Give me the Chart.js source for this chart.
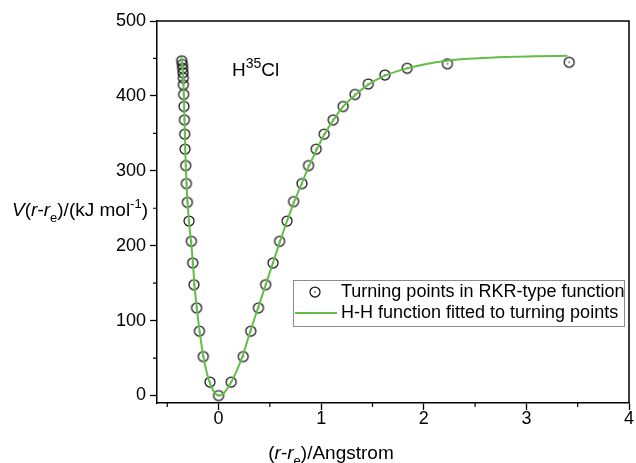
<!DOCTYPE html>
<html>
<head>
<meta charset="utf-8">
<script src="https://cdn.jsdelivr.net/npm/chart.js@4.4.0/dist/chart.umd.min.js"></script>
<style>
  body { margin: 0; background: #fff; }
  #wrap { width: 636px; height: 463px; }
</style>
</head>
<body>
<div id="wrap"><canvas id="chartHCl" width="636" height="463"></canvas></div>
<script>
// turning points, inner branch (r - re in Angstrom, V in kJ/mol)
const innerR = [-0.359, -0.353, -0.350, -0.347, -0.344, -0.343, -0.340, -0.337, -0.333, -0.330, -0.327, -0.320, -0.314, -0.304, -0.288, -0.265, -0.252, -0.240, -0.214, -0.187, -0.149, -0.084, 0];
const innerV = [447, 442, 437, 431, 424, 415, 402, 386, 368, 349, 329, 307, 283, 258, 233, 206, 177, 148, 117, 86, 52, 18, 0];
// turning points, outer branch
const outerR = [0.123, 0.240, 0.314, 0.388, 0.459, 0.531, 0.595, 0.667, 0.731, 0.813, 0.877, 0.951, 1.029, 1.117, 1.214, 1.330, 1.459, 1.621, 1.838, 2.230, 3.417];
const outerV = [18, 52, 86, 117, 148, 177, 206, 233, 259, 283, 307, 329, 349, 368, 386, 402, 416, 428, 437, 443, 445];
// fitted H-H curve
const fitR = [-0.363, -0.358, -0.352, -0.347, -0.343, -0.339, -0.335, -0.331, -0.326, -0.320, -0.312, -0.302, -0.288, -0.268, -0.250, -0.235, -0.212, -0.185, -0.148, -0.110, -0.080, -0.040, 0, 0.050, 0.120, 0.180, 0.240, 0.310, 0.385, 0.460, 0.530, 0.600, 0.665, 0.735, 0.810, 0.880, 0.955, 1.030, 1.120, 1.215, 1.330, 1.460, 1.620, 1.840, 2.000, 2.230, 2.500, 2.800, 3.100, 3.400];
const fitV = [452, 446, 439, 430, 418, 402, 384, 364, 337, 308, 282, 257, 232, 205, 177, 148, 117, 86, 52, 28, 15, 4, 0, 3, 17, 34, 55, 86, 117, 148, 177, 206, 232, 258, 283, 306, 328, 348, 368, 386, 401, 415, 427, 437, 442, 447, 450, 452, 453, 453.5];

const xTicks = [0, 1, 2, 3, 4];
const xMinorTicks = [-0.5, 0.5, 1.5, 2.5, 3.5];
const yTicks = [0, 100, 200, 300, 400, 500];
const yMinorTicks = [50, 150, 250, 350, 450];
const seriesLabels = ['Turning points in RKR-type function', 'H-H function fitted to turning points'];

const FONT = "'Liberation Sans', Arial, sans-serif";
const GREEN = 'rgb(98, 190, 70)';
const MARK = '#151515';

function makeMarker() {
  const c = document.createElement('canvas');
  c.width = 14; c.height = 14;
  const ctx = c.getContext('2d');
  ctx.strokeStyle = MARK;
  ctx.lineWidth = 1.25;
  ctx.beginPath(); ctx.arc(7, 7, 5, 0, Math.PI * 2); ctx.stroke();
  ctx.fillStyle = MARK;
  ctx.beginPath(); ctx.arc(7, 7, 0.8, 0, Math.PI * 2); ctx.fill();
  return c;
}
const marker = makeMarker();

// text drawn piece by piece so italic / sub / sup work
function drawRich(ctx, parts, x, y, size, align, small) {
  const ratio = small || 0.7;
  const fontOf = p => (p.i ? 'italic ' : '') + ((p.sub || p.sup) ? Math.round(size * ratio) : size) + 'px ' + FONT;
  let w = 0;
  parts.forEach(p => { ctx.font = fontOf(p); w += ctx.measureText(p.t).width; });
  let cx = align === 'right' ? x - w : (align === 'center' ? x - w / 2 : x);
  ctx.textAlign = 'left';
  ctx.textBaseline = 'alphabetic';
  ctx.fillStyle = '#000';
  parts.forEach(p => {
    ctx.font = fontOf(p);
    const dy = p.sub ? size * 0.3 : (p.sup ? -size * 0.42 : 0);
    ctx.fillText(p.t, cx, y + dy);
    cx += ctx.measureText(p.t).width;
  });
}

const extras = {
  id: 'extras',
  afterDraw(chart) {
    const ctx = chart.ctx;
    const a = chart.chartArea;
    const xs = chart.scales.x, ys = chart.scales.y;
    ctx.save();
    // top and right frame
    ctx.strokeStyle = '#000';
    ctx.lineWidth = 1.5;
    ctx.beginPath();
    ctx.moveTo(a.left, a.top); ctx.lineTo(a.right, a.top); ctx.lineTo(a.right, a.bottom);
    ctx.stroke();
    // minor ticks
    ctx.lineWidth = 1.2;
    ctx.beginPath();
    xMinorTicks.forEach(v => { const px = xs.getPixelForValue(v); ctx.moveTo(px, a.bottom); ctx.lineTo(px, a.bottom + 4); });
    yMinorTicks.forEach(v => { const py = ys.getPixelForValue(v); ctx.moveTo(a.left, py); ctx.lineTo(a.left - 4, py); });
    ctx.stroke();

    // axis titles
    drawRich(ctx, [{ t: 'V', i: 1 }, { t: '(' }, { t: 'r', i: 1 }, { t: '-' }, { t: 'r', i: 1 }, { t: 'e', sub: 1 }, { t: ')/(kJ mol' }, { t: '-1', sup: 1 }, { t: ')' }], 148, 216, 19, 'right');
    drawRich(ctx, [{ t: '(' }, { t: 'r', i: 1 }, { t: '-' }, { t: 'r', i: 1 }, { t: 'e', sub: 1 }, { t: ')/Angstrom' }], 331, 459, 19, 'center');
    // molecule label
    drawRich(ctx, [{ t: 'H' }, { t: '35', sup: 1 }, { t: 'Cl' }], 232, 76, 19, 'left', 0.76);

    // legend
    ctx.strokeStyle = '#8c8c8c';
    ctx.lineWidth = 1;
    ctx.strokeRect(293.5, 280.5, 331, 46);
    ctx.drawImage(marker, 315 - 7, 292 - 7);
    ctx.strokeStyle = GREEN;
    ctx.lineWidth = 2;
    ctx.beginPath(); ctx.moveTo(295, 313); ctx.lineTo(337, 313); ctx.stroke();
    ctx.fillStyle = '#000';
    ctx.font = '18px ' + FONT;
    ctx.textAlign = 'left';
    ctx.textBaseline = 'middle';
    ctx.fillText(seriesLabels[0], 341, 292);
    ctx.fillText(seriesLabels[1], 341, 313);
    ctx.restore();
  }
};

const turningPoints = innerR.map((r, i) => ({ x: r, y: innerV[i] }))
  .concat(outerR.map((r, i) => ({ x: r, y: outerV[i] })));
const fitCurve = fitR.map((r, i) => ({ x: r, y: fitV[i] }));

Chart.defaults.font.family = FONT;
Chart.defaults.font.size = 18;
Chart.defaults.color = '#000';

new Chart(document.getElementById('chartHCl'), {
  type: 'scatter',
  data: {
    datasets: [
      {
        label: seriesLabels[1],
        data: fitCurve,
        showLine: true,
        borderColor: GREEN,
        borderWidth: 2,
        pointRadius: 0,
        cubicInterpolationMode: 'monotone',
        order: 1
      },
      {
        label: seriesLabels[0],
        data: turningPoints,
        pointStyle: marker,
        pointRadius: 6,
        order: 2
      }
    ]
  },
  options: {
    responsive: false,
    animation: false,
    events: [],
    layout: { padding: { left: 0, right: 5, top: 21, bottom: 0 } },
    plugins: { legend: { display: false }, tooltip: { enabled: false } },
    scales: {
      x: {
        type: 'linear',
        min: -0.6,
        max: 4,
        afterBuildTicks: s => { s.ticks = xTicks.map(v => ({ value: v })); },
        afterFit: s => { s.height = 60; },
        ticks: { padding: 0, font: { size: 18, lineHeight: 1 } },
        grid: { drawOnChartArea: false, tickLength: 7, tickColor: '#000', tickWidth: 1.3 },
        border: { color: '#000', width: 1.5 }
      },
      y: {
        min: -10,
        max: 500,
        afterBuildTicks: s => { s.ticks = yTicks.map(v => ({ value: v })); },
        afterFit: s => { s.width = 157; },
        ticks: { padding: 4, font: { size: 18, lineHeight: 1 } },
        grid: { drawOnChartArea: false, tickLength: 7, tickColor: '#000', tickWidth: 1.3 },
        border: { color: '#000', width: 1.5 }
      }
    }
  },
  plugins: [extras]
});
</script>
</body>
</html>
